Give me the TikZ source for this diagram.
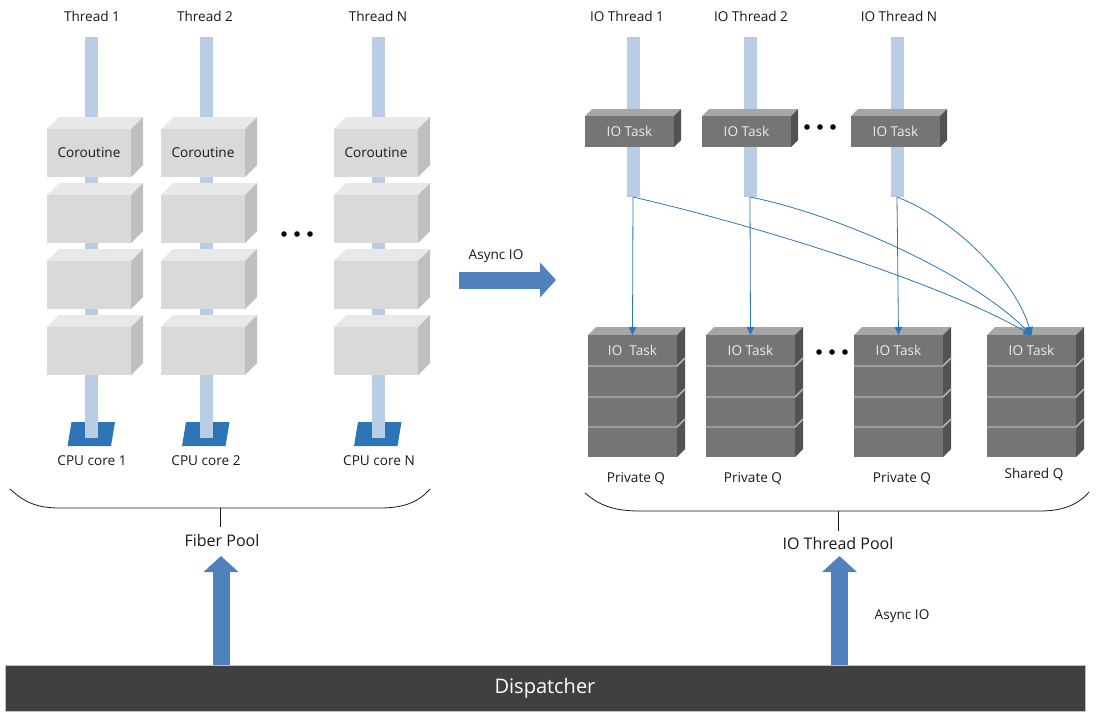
\documentclass[tikz,border=0pt]{standalone}
\usepackage{fontspec}
\setmainfont{Open Sans}
\usetikzlibrary{arrows.meta}

\definecolor{barblue}{HTML}{B9CDE5}
\definecolor{corefill}{HTML}{2E75B6}
\definecolor{bigblue}{HTML}{4F81BD}
\definecolor{connblue}{HTML}{2E75B6}
\definecolor{dispfill}{HTML}{404040}
\definecolor{divline}{HTML}{A9B4C2}

\tikzset{
  lbl/.style={font=\fontsize{10.2}{12}\selectfont, text=black!90, inner sep=0pt},
  poollbl/.style={font=\fontsize{12}{14}\selectfont, text=black!90, inner sep=0pt},
  threadbar/.style={fill=barblue, draw=none, minimum width=13*0.75pt, inner sep=0pt, outer sep=0pt},
  corfront/.style={fill=gray!30!white, draw=none, inner sep=0pt, outer sep=0pt,
                   font=\fontsize{10.2}{12}\selectfont, text=black!90},
  cortop/.style={fill=gray!18!white},
  corside/.style={fill=gray!50!white},
  iofront/.style={fill=black!54, draw=none, inner sep=0pt, outer sep=0pt,
                  font=\fontsize{10.2}{12}\selectfont, text=white!92!black},
  iotop/.style={fill=black!35},
  ioside/.style={fill=black!68},
  conn/.style={draw=connblue, line width=0.6pt, -{Triangle[length=6pt,width=5.5pt]}},
  bigarrow/.style={draw=bigblue, line width=17*0.75pt, -{Triangle[length=16*0.75pt,width=34*0.75pt]}},
  bracket/.style={draw=black!90, line width=0.6pt},
  qdiv/.style={draw=divline, line width=1.1pt},
  dot/.style={fill=black},
}

% #1 name, #2 left x, #3 top y, #4 width, #5 height, #6 depth, #7 colour set, #8 text
\newcommand\cubeblk[8]{%
  \fill[#7top] (#2,#3) -- ++(#6,-#6) -- ++(#4,0) -- ++(-#6,#6) -- cycle;
  \fill[#7side] ({#2+#4},#3) -- ++(#6,-#6) -- ++(0,#5) -- ++(-#6,#6) -- cycle;
  \node[#7front, minimum width=#4*0.75pt, minimum height=#5*0.75pt]
    (#1) at ({#2+#4/2},{#3+#5/2}) {#8};
}

% queue: a tall block cut into four slots
\newcommand\queueblk[3]{% #1 name, #2 left x, #3 text of the top slot
  \cubeblk{#1}{#2}{335}{89}{122}{8}{io}{}
  \node[font=\fontsize{10.2}{12}\selectfont, text=white!92!black] at ({#2+44.5},350) {#3};
  \foreach \yy in {366,397,427}{
    \draw[qdiv] (#2,\yy) -- ++(89,0) -- ++(8,-8);
  }
}

% CPU core pad under a thread bar
\newcommand\cpupad[2]{% #1 name, #2 bar centre x
  \fill[corefill] ({#2-24},446) -- ({#2-20},422) -- ({#2+23.5},422) -- ({#2+19.5},446) -- cycle;
  \coordinate (#1) at (#2,434);
}

\begin{document}
\begin{tikzpicture}[x=0.75pt, y=-0.75pt]
\useasboundingbox (0,0) rectangle (1097,719);

% ---------------- fiber pool ----------------
\cpupad{core1}{91.5}
\cpupad{core2}{206}
\cpupad{core3}{378}

\node[threadbar, minimum height=401*0.75pt] (tb1) at (91.5,237.5) {};
\node[threadbar, minimum height=401*0.75pt] (tb2) at (206,237.5) {};
\node[threadbar, minimum height=401*0.75pt] (tb3) at (378,237.5) {};

\node[lbl] (th1) at (92,16) {Thread 1};
\node[lbl] (th2) at (205,16) {Thread 2};
\node[lbl] (th3) at (378,16) {Thread N};

\foreach \c/\xl in {1/47,2/161,3/334}{
  \cubeblk{co\c a}{\xl}{129}{84}{48}{12}{cor}{Coroutine}
  \cubeblk{co\c b}{\xl}{195}{84}{48}{12}{cor}{}
  \cubeblk{co\c c}{\xl}{261}{84}{48}{12}{cor}{}
  \cubeblk{co\c d}{\xl}{327}{84}{48}{12}{cor}{}
}

\node[lbl] (cpu1) at (92,461) {CPU core 1};
\node[lbl] (cpu2) at (206,461) {CPU core 2};
\node[lbl] (cpu3) at (379,461) {CPU core N};

\foreach \xx in {284,297,310} \fill[dot] (\xx,234) circle (2.8);

\draw[bracket] (10,489) .. controls (25,503) and (38,508) .. (60,508)
  -- (380,508) .. controls (402,508) and (418,503) .. (430,489);
\coordinate (fpTick) at (220,508);
\node[poollbl] (fiberpool) at (222,540) {Fiber Pool};
\draw[bracket] (fpTick) -- (220,527);

% ---------------- hand-off ----------------
\coordinate (asyncA) at (459,280);
\coordinate (asyncB) at (556,280);
\draw[bigarrow] (asyncA) -- (asyncB);
\node[lbl] (asynclbl) at (496,256) {Async IO};

% ---------------- IO thread pool ----------------
\node[threadbar, minimum height=160*0.75pt] (iob1) at (633,117) {};
\node[threadbar, minimum height=160*0.75pt] (iob2) at (750,117) {};
\node[threadbar, minimum height=160*0.75pt] (iob3) at (897,117) {};

\node[lbl] (ioth1) at (627,16) {IO Thread 1};
\node[lbl] (ioth2) at (751,16) {IO Thread 2};
\node[lbl] (ioth3) at (899,16) {IO Thread N};

\cubeblk{task1}{585}{116}{89}{31}{7}{io}{IO Task}
\cubeblk{task2}{702}{116}{89}{31}{7}{io}{IO Task}
\cubeblk{task3}{851}{116}{89}{31}{7}{io}{IO Task}
\foreach \xx in {807,820,833} \fill[dot] (\xx,127) circle (2.8);

\queueblk{q1}{588}{IO\ \ Task}
\queueblk{q2}{706}{IO Task}
\queueblk{q3}{854}{IO Task}
\queueblk{qs}{987}{IO Task}
\foreach \xx in {819,832,845} \fill[dot] (\xx,352) circle (2.8);

\node[lbl] (pq1) at (636,479) {Private Q};
\node[lbl] (pq2) at (753,479) {Private Q};
\node[lbl] (pq3) at (902,479) {Private Q};
\node[lbl] (sq)  at (1034,474) {Shared Q};

% task hand-off into the queues
\draw[conn] (iob1.south) -- (q1.north);
\draw[conn] (iob2.south) -- (q2.north);
\draw[conn] (iob3.south) -- (q3.north);
\draw[conn] (iob1.south) .. controls (763,227) and (940,283) .. (qs.north);
\draw[conn] (iob2.south) .. controls (840,215) and (970,274) .. (qs.north);
\draw[conn] (iob3.south) .. controls (957,220) and (1016,282) .. (qs.north);

\draw[bracket] (585,493) .. controls (600,506) and (615,511) .. (640,511)
  -- (1040,511) .. controls (1062,511) and (1078,505) .. (1089,492);
\coordinate (ioTick) at (838,511);
\node[poollbl] (iopool) at (838,543) {IO Thread Pool};
\draw[bracket] (ioTick) -- (838,531);

% ---------------- dispatcher ----------------
\node[fill=dispfill, draw=black!25, line width=0.6pt, minimum width=1080*0.75pt,
      minimum height=46*0.75pt, inner sep=0pt, outer sep=0pt,
      font=\fontsize{15}{17}\selectfont, text=white] (disp) at (545,688) {Dispatcher};

\coordinate (fpTip) at (221,556);
\coordinate (ioTip) at (839.5,556);
\draw[bigarrow] (disp.north -| fpTip) -- (fpTip);
\draw[bigarrow] (disp.north -| ioTip) -- (ioTip);
\node[lbl] (asynclbl2) at (902,616) {Async IO};
\end{tikzpicture}
\end{document}
